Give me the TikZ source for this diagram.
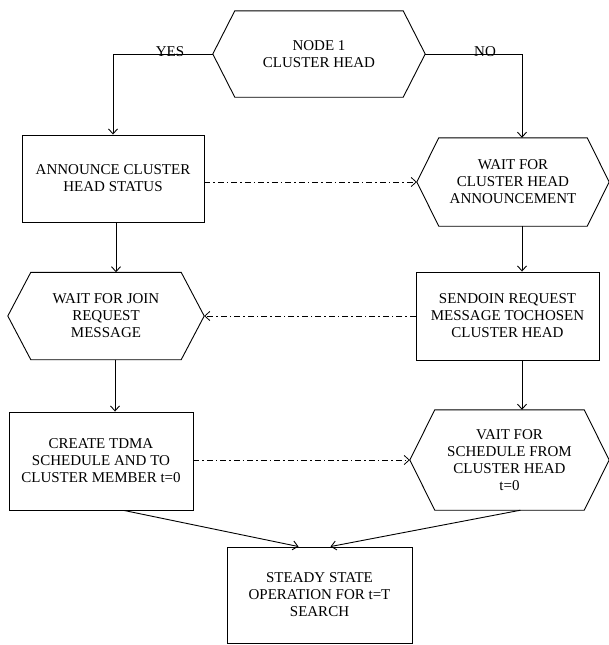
\documentclass[tikz,border=0pt]{standalone}
\usepackage{fontspec}
\setmainfont{Liberation Serif}
\usetikzlibrary{arrows.meta,calc}
\tikzset{
  lbl/.style={font=\fontsize{15}{17}\selectfont, align=center, inner sep=0pt},
  boxn/.style={lbl, draw, line width=0.9pt},
  hexn/.style={lbl},
  line/.style={line width=0.9pt},
  arr/.style={line width=0.9pt, -{Straight Barb[length=5pt,width=9pt]}},
  dd/.style={line width=0.8pt, dash pattern=on 6pt off 3pt on 1.5pt off 3pt, -{Straight Barb[length=5pt,width=9pt]}},
}
\newcommand\drawhexagon[2]{%
  \draw[line] ($(#1.north west)+(#2,0)$) -- (#1.west) -- ($(#1.south west)+(#2,0)$)
    -- ($(#1.south east)-(#2,0)$) -- (#1.east) -- ($(#1.north east)-(#2,0)$) -- cycle;}
\begin{document}
\begin{tikzpicture}[x=1pt,y=-1pt]
\useasboundingbox (0,0) rectangle (609,645);
% nodes
\node[hexn, minimum width=212, minimum height=86] (top) at (319,54) {NODE 1\\CLUSTER HEAD};
\drawhexagon{top}{22}
\node[boxn, minimum width=182, minimum height=87] (b1) at (113,178.5) {ANNOUNCE CLUSTER\\HEAD STATUS};
\node[hexn, minimum width=192, minimum height=88] (h2) at (513,182) {WAIT FOR\\CLUSTER HEAD\\ANNOUNCEMENT};
\drawhexagon{h2}{22}
\node[hexn, minimum width=196, minimum height=87] (h3) at (106,316) {WAIT FOR JOIN\\REQUEST\\MESSAGE};
\drawhexagon{h3}{23}
\node[boxn, minimum width=183, minimum height=88] (send) at (507.5,316) {SENDOIN REQUEST\\MESSAGE TOCHOSEN\\CLUSTER HEAD};
\node[boxn, minimum width=184, minimum height=98] (b4) at (101,461) {CREATE TDMA\\SCHEDULE AND TO\\CLUSTER MEMBER t=0};
\node[hexn, minimum width=199, minimum height=100] (h4) at (509.5,460) {VAIT FOR\\SCHEDULE FROM\\CLUSTER HEAD\\t=0};
\drawhexagon{h4}{25}
\node[boxn, minimum width=185, minimum height=96] (ss) at (319.5,595) {STEADY STATE\\OPERATION FOR t=T\\SEARCH};
% labels
\node[lbl] (yes) at (170,52) {YES};
\node[lbl] (no) at (485,52) {NO};
% connectors
\coordinate (nocorner) at (522,54);
\draw[arr] (top.west) -| (b1.north);
\draw[line] (top.east) -- (nocorner);
\draw[arr] (nocorner) -- (nocorner |- h2.north);
\draw[arr] ($(b1.south)+(3,0)$) -- ($(b1.south |- h3.north)+(3,0)$);
\draw[arr] (h2.south -| nocorner) -- (send.north -| nocorner);
\draw[arr] ($(h3.south)+(9,0)$) -- ($(h3.south |- b4.north)+(9,0)$);
\draw[arr] (send.south -| nocorner) -- (h4.north -| nocorner);
\draw[dd] (b1.east |- h2.west) -- (h2.west);
\draw[dd] (send.west |- h3.east) -- (h3.east);
\draw[dd] (b4.east |- h4.west) -- (h4.west);
\draw[arr] ($(b4.south)+(23,0)$) -- ($(ss.north)+(-21,0)$);
\draw[arr] ($(h4.south)+(11,0)$) -- ($(ss.north)+(11,0)$);
\end{tikzpicture}
\end{document}
